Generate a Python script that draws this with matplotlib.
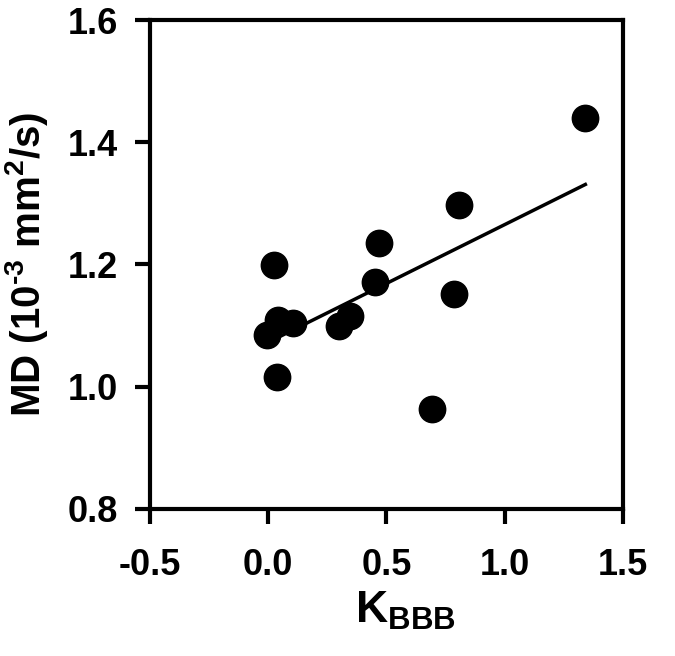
"""Scatter of mean diffusivity against K_BBB with a least-squares line."""

import matplotlib

matplotlib.use("Agg", force=True)
import matplotlib.pyplot as plt
import numpy as np

# values
k_bbb = [1.342, 0.808, 0.470, 0.026, 0.452, 0.787, 0.346, 0.301,
         0.106, 0.043, -0.004, 0.036, 0.692]
md = [1.439, 1.297, 1.235, 1.199, 1.172, 1.151, 1.116, 1.099,
      1.104, 1.109, 1.085, 1.016, 0.963]
x_ticks = [-0.5, 0.0, 0.5, 1.0, 1.5]
y_ticks = [0.8, 1.0, 1.2, 1.4, 1.6]

plt.rcParams["font.family"] = ["Liberation Sans", "DejaVu Sans"]
plt.rcParams["font.weight"] = "bold"
plt.rcParams["mathtext.fontset"] = "custom"
plt.rcParams["mathtext.rm"] = "Liberation Sans:bold"
plt.rcParams["mathtext.bf"] = "Liberation Sans:bold"

fig = plt.figure(figsize=(6.75, 6.56), dpi=100)
ax = fig.add_axes([0.2222, 0.2241, 0.7003, 0.7454])

ax.plot(k_bbb, md, "o", color="black", markersize=19, zorder=3)

# regression line over the data range
x = np.array(k_bbb)
slope, intercept = np.polyfit(x, np.array(md), 1)
x_line = np.array([x.min(), x.max()])
ax.plot(x_line, intercept + slope * x_line, color="black", linewidth=2.5, zorder=2)

ax.set_xlim(-0.5, 1.5)
ax.set_ylim(0.8, 1.6)
ax.set_xticks(x_ticks)
ax.set_yticks(y_ticks)
ax.set_xticklabels([f"{v:.1f}" for v in x_ticks])
ax.set_yticklabels([f"{v:.1f}" for v in y_ticks])

for spine in ax.spines.values():
    spine.set_linewidth(3)
ax.tick_params(direction="out", length=11, width=3, labelsize=26)
ax.tick_params(axis="x", pad=17)
ax.tick_params(axis="y", pad=12)

ax.set_xlabel(r"K$_{\mathregular{BBB}}$", fontsize=32, fontweight="bold")
ax.xaxis.set_label_coords(0.54, -0.165)
ax.set_ylabel("MD (10$^{\\mathregular{\u2010}3}$ mm$^{\\mathregular{2}}$/s)",
              fontsize=29, fontweight="bold", labelpad=13)

fig.savefig("out.png", dpi=100)
plt.close(fig)
